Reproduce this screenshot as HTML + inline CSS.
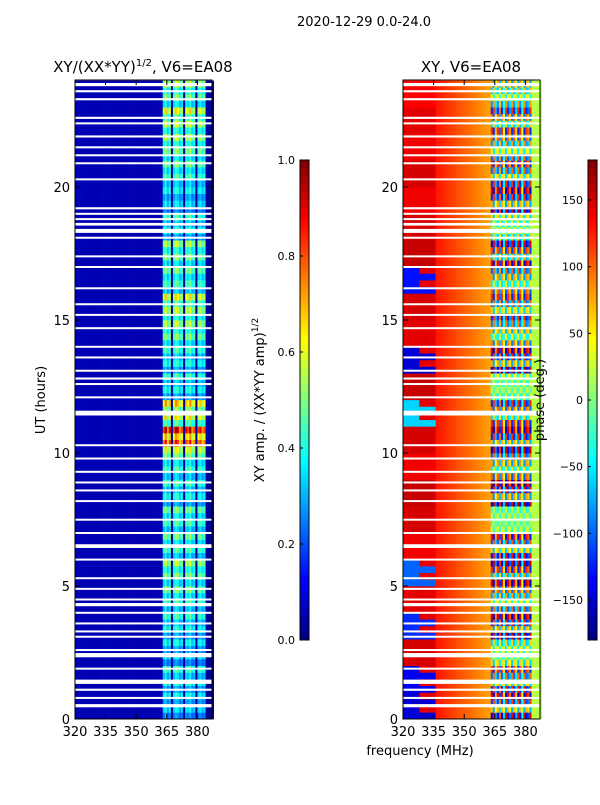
<!DOCTYPE html>
<html><head><meta charset="utf-8"><style>
body{margin:0;background:#fff;width:600px;height:800px;overflow:hidden}
svg{font-family:"DejaVu Sans","Liberation Sans",sans-serif}
</style></head><body>
<svg id="fig" width="600" height="800">
<text x="364" y="26" font-size="13" text-anchor="middle">2020-12-29 0.0-24.0</text>
<text x="143" y="72" font-size="15" text-anchor="middle">XY/(XX*YY)<tspan font-size="10" dy="-6">1/2</tspan><tspan dy="6">, V6=EA08</tspan></text>
<text x="471" y="72" font-size="15" text-anchor="middle">XY, V6=EA08</text>
<g id="ampHeat"></g>
<g id="phHeat"></g>
<g id="axes"></g>
<text transform="translate(45,400) rotate(-90)" font-size="13" text-anchor="middle">UT (hours)</text>
<text x="420" y="755" font-size="13" text-anchor="middle">frequency (MHz)</text>
<text transform="translate(264,400) rotate(-90)" font-size="13" text-anchor="middle">XY amp. / (XX*YY amp)<tspan font-size="9" dy="-6">1/2</tspan></text>
<text transform="translate(544,400) rotate(-90)" font-size="13" text-anchor="middle">phase (deg.)</text>
</svg>
<script>
const hours=[0,5,10,15,20];
const freqTicks=[320,335,350,365,380];
const ampCbTicks=[0.0,0.2,0.4,0.6,0.8,1.0];
const phCbTicks=[-150,-100,-50,0,50,100,150];
const ampHourly=[0.3,0.34,0.3,0.34,0.38,0.42,0.38,0.38,0.34,0.38,0.68,0.52,0.34,0.34,0.42,0.47,0.38,0.42,0.34,0.3,0.38,0.42,0.47,0.42];
const ampQuarter=[0.8,1.1,0.9,1.2];
const ampCol=[1.0,1.2,0.9,1.1,0.05,1.0,1.2,1.1,0.9,1.0,0.05,1.1,1.0,1.2,0.9,1.0,0.05,1.0,1.1,0.9,1.0,0.05,0.05,0.05,0.05];
const leftPhase=[-150,-140,150,-120,145,-100,140,150,155,140,150,-60,155,-150,145,150,-130,155,150,140,150,140,145,135];
const bandPhase=[-140,-120,60,-150,-100,150,-130,30,-160,100,-150,120,-40,-150,90,-120,100,140,-60,-150,-120,-100,120,-80];
const bandQuarter=[1,-0.5,0.8,-1];
const bandSign=[1,-1,0.6,1,-0.8,1,0.4,-1,1,0.7,-1,1,0.5,-1,1,0.3,-1,1,0.8,-1];
const flags=[[23.85,0.12],[23.6,0.08],[23.3,0.08],[22.6,0.08],[22.4,0.06],[21.9,0.08],[21.5,0.06],[21.2,0.06],[20.9,0.06],[20.3,0.05],[19.2,0.08],[19.0,0.06],[18.8,0.06],[18.6,0.1],[18.35,0.15],[18.1,0.06],[17.4,0.06],[17.0,0.06],[16.2,0.06],[15.6,0.06],[15.2,0.06],[14.7,0.06],[14.0,0.06],[13.6,0.06],[13.1,0.06],[12.8,0.08],[12.6,0.06],[12.1,0.06],[11.5,0.18],[10.3,0.06],[9.8,0.06],[9.3,0.06],[8.9,0.06],[8.6,0.06],[8.2,0.06],[7.5,0.06],[7.0,0.06],[6.5,0.14],[6.0,0.06],[5.3,0.06],[4.9,0.06],[4.5,0.06],[4.3,0.12],[4.0,0.06],[3.6,0.06],[3.3,0.06],[3.1,0.06],[2.6,0.06],[2.4,0.16],[1.9,0.06],[1.4,0.16],[1.1,0.08],[0.8,0.06],[0.5,0.12]];
const NS="http://www.w3.org/2000/svg";
const Y0=719,PXH=26.6;
const yS=h=>Y0-h*PXH;
const panels=[{x0:75,id:'ampHeat'},{x0:403,id:'phHeat'}];
const fMin=320,fMax=387.2;
const xS=(x0,f)=>x0+(f-320)*2.04;
function jet(v){v=Math.max(0,Math.min(1,v));const c=t=>Math.round(255*Math.max(0,Math.min(1,1.5-Math.abs(4*v-t))));return`rgb(${c(3)},${c(2)},${c(1)})`;}
function mk(tag,at,parent){const e=document.createElementNS(NS,tag);for(const k in at)e.setAttribute(k,at[k]);parent.appendChild(e);return e;}
function ampVal(f,h){const hi=Math.floor(h);if(f<363)return 0.05;const j=Math.min(ampCol.length-1,Math.floor(f-363));const q=Math.floor(h*4)%4;return ampCol[j]*ampHourly[hi]*ampQuarter[q];}
function phVal(f,h){const hi=Math.floor(h);const q=Math.floor(h*4)%4;
 if(f<336){const lp=leftPhase[hi];if(lp<0&&(f<328||q%2===0))return lp;return lp<0?145:lp;}
 if(f<363){return 128-(f-336)*1.9;}
 if(f>=383)return 20;const j=Math.floor(f-363);return bandPhase[hi]*bandSign[j]*bandQuarter[q];}
const NR=96;
panels.forEach((p,pi)=>{const g=document.getElementById(p.id);
 for(let i=0;i<NR;i++){const h=i/4;const y=yS(h+0.25);
  for(let f=fMin;f<fMax;f+=1){
   const v=pi===0?ampVal(f,h):(phVal(f,h)+180)/360;
   const r=mk('rect',{x:xS(p.x0,f),y:y,width:2.04+0.3,height:PXH/4+0.3,fill:jet(v)},g);
   
   
  }}
 flags.forEach(fl=>{const r=mk('rect',{x:p.x0,y:yS(fl[0]+fl[1]/2),width:137,height:Math.max(2,fl[1]*PXH),fill:'#fff'},g);
  
  });
});
const ax=document.getElementById('axes');
panels.forEach((p,pi)=>{
 const fr=mk('rect',{x:p.x0,y:80,width:137,height:639,fill:'none',stroke:'#000','stroke-width':1},ax);
 
 
 freqTicks.forEach(t=>{const x=xS(p.x0,t);mk('line',{x1:x,x2:x,y1:719,y2:714,stroke:'#000'},ax);mk('line',{x1:x,x2:x,y1:80,y2:85,stroke:'#000'},ax);
  const tx=mk('text',{x:x,y:736,'font-size':13,'text-anchor':'middle'},ax);tx.textContent=t;
  
  });
 hours.forEach(t=>{const y=yS(t);mk('line',{x1:p.x0,x2:p.x0+5,y1:y,y2:y,stroke:'#000'},ax);mk('line',{x1:p.x0+137,x2:p.x0+132,y1:y,y2:y,stroke:'#000'},ax);
  const tx=mk('text',{x:p.x0-5,y:y+5,'font-size':13,'text-anchor':'end'},ax);tx.textContent=t;
  
  });
});
function cbar(x,vmin,vmax,ticks,fmt,name){const g=mk('g',{},ax);
 
 
 const n=120;for(let k=0;k<n;k++){mk('rect',{x:x,y:640-(k+1)*4,width:9,height:4.3,fill:jet((k+0.5)/n)},g);}
 mk('rect',{x:x,y:160,width:9,height:480,fill:'none',stroke:'#000'},g);
 ticks.forEach(t=>{const y=640-(t-vmin)/(vmax-vmin)*480;mk('line',{x1:x,x2:x+3,y1:y,y2:y,stroke:'#000'},g);
  const tx=mk('text',{x:x-5,y:y+4,'font-size':11,'text-anchor':'end'},g);tx.textContent=fmt(t);
  
  });}
cbar(300,0,1,ampCbTicks,t=>t.toFixed(1),'amp-colorbar');
cbar(588,-180,180,phCbTicks,t=>t<0?'\u2212'+(-t):''+t,'phase-colorbar');
</script>
</body></html>
